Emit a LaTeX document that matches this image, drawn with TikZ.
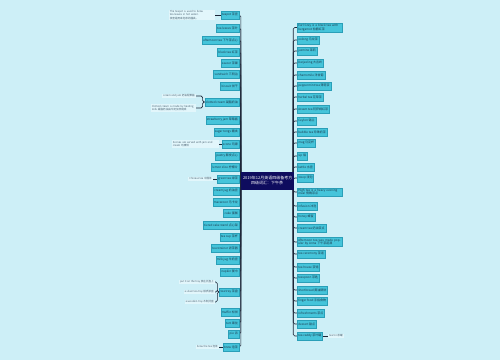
\documentclass[tikz,border=0pt]{standalone}
\usepackage{fontspec}
\setmainfont{Noto Sans CJK SC}
\usetikzlibrary{backgrounds}
\definecolor{fondo}{HTML}{CDEFF7}
\definecolor{colTema}{HTML}{45C4DA}
\definecolor{colBorde}{HTML}{2A9FB8}
\definecolor{colHoja}{HTML}{E2F6FB}
\definecolor{colCentro}{HTML}{0E0C5E}
\definecolor{colLinea}{HTML}{1C2436}
\definecolor{colTexto}{HTML}{1D3B4F}
\tikzset{
  tema/.style={fill=colTema, draw=colBorde, line width=0.3pt, inner sep=1.1pt,
    minimum height=7.4pt, text=colTexto, font=\fontsize{3}{3.6}\selectfont},
  hoja/.style={fill=colHoja, inner sep=1pt, align=left, text=colTexto!80,
    font=\fontsize{2.6}{3.2}\selectfont},
  centro/.style={fill=colCentro, draw=colCentro, text=white, align=center,
    text width=48pt, inner sep=2pt, minimum height=17pt,
    font=\fontsize{4}{5.2}\selectfont},
  rama/.style={draw=colLinea, line width=0.6pt, rounded corners=1.5pt}
}
\begin{document}
\begin{tikzpicture}[x=1pt,y=-1pt]
  \useasboundingbox (0,0) rectangle (500,360);
  % Nodo central
  \node[centro] (ctr) at (267,180.5) {2019年12月英语四级备考方\\四级词汇：下午茶};

  % Ramas izquierdas
  \foreach \i/\y/\t in {1/15/teapot 茶壶, 2/28/tea leaves 茶叶, 3/40/afternoon tea 下午茶点心,
      4/52/black tea 红茶, 5/63/saucer 茶碟, 6/74/sandwich 三明治, 7/86/biscuit 饼干,
      8/102/clotted cream 凝脂奶油, 9/120/strawberry jam 草莓酱, 10/132/sugar tongs 糖夹,
      11/144/scone 司康, 12/156/pastry 酥皮点心, 13/167/lemon slice 柠檬片,
      14/179/green tea 绿茶, 15/191/cream jug 奶油壶, 16/202/macaroon 马卡龙,
      17/213/cake 蛋糕, 18/225/tiered cake stand 点心架, 19/237/tea cup 茶杯,
      20/248/tea strainer 滤茶器, 21/260/milk jug 牛奶壶, 22/272/napkin 餐巾,
      23/292/tea tray 茶盘, 24/312/muffin 松饼, 25/323/tart 果挞, 26/334/pie 派,
      27/347/brew 泡茶}
    \node[tema, anchor=east] (L\i) at (239,\y) {\t};

  % Ramas derechas
  \node[tema, anchor=west, text width=43pt, align=left] (R1) at (297,27.5)
    {Earl Grey is a black tea with bergamot 伯爵红茶};
  \node[tema, anchor=west, text width=43pt, align=left] (R15) at (297,192)
    {High tea is a heavy evening meal 傍晚茶点};
  \node[tema, anchor=west, text width=43pt, align=left] (R19) at (297,242)
    {Afternoon tea was made popular by Anna 下午茶起源};
  \foreach \i/\y/\t in {2/40/oolong 乌龙茶, 3/51/jasmine 茉莉, 4/63/Darjeeling 大吉岭,
      5/75/chamomile 洋甘菊, 6/86/peppermint tea 薄荷茶, 7/97/herbal tea 花草茶,
      8/109/Assam tea 阿萨姆红茶, 9/121/Ceylon 锡兰, 10/132/bubble tea 珍珠奶茶,
      11/143/mug 马克杯, 12/156/sip 啜, 13/167/kettle 水壶, 14/178/steep 浸泡,
      16/206/infusion 冲泡, 17/217/honey 蜂蜜, 18/228/cream tea 奶油茶点,
      20/254/tea ceremony 茶道, 21/267/tea house 茶馆, 22/278/teaspoon 茶匙,
      23/290/shortbread 黄油酥饼, 24/301/finger food 手指食物, 25/313/refreshments 茶点,
      26/324/dessert 甜点, 27/336/tea caddy 茶叶罐}
    \node[tema, anchor=west] (R\i) at (297,\y) {\t};

  % Hojas
  \node[hoja, anchor=east, text width=44pt] (L1a) at (215,15)
    {The teapot is used to brew tea leaves in hot water. 茶壶是用来泡茶的器具。};
  \node[hoja, anchor=east] (L8a) at (196,96) {cream and jam 奶油配果酱};
  \node[hoja, anchor=east, text width=43pt] (L8b) at (196,108)
    {Clotted cream is made by heating milk 凝脂奶油由牛奶加热制成};
  \node[hoja, anchor=east, text width=45pt] (L11a) at (219,144)
    {Scones are served with jam and cream 司康饼};
  \node[hoja, anchor=east] (L14a) at (213,179) {Chinese tea 中国茶};
  \node[hoja, anchor=east] (L23a) at (215,282) {put it on the tray 放在托盘上};
  \node[hoja, anchor=east] (L23b) at (215,292) {a silver tea tray 银质茶盘};
  \node[hoja, anchor=east] (L23c) at (215,302) {a wooden tray 木制托盘};
  \node[hoja, anchor=east] (L27a) at (219,347) {brew the tea 泡茶};
  \node[hoja, anchor=west] (R27a) at (328,336) {tea tin 茶罐};

  \begin{pgfonlayer}{background}
    \fill[fondo] (0,0) rectangle (500,360);
    % Conectores
    \foreach \i in {1,...,27} {
      \draw[rama] (ctr.west) |- (L\i.east);
      \draw[rama] (ctr.east) |- (R\i.west);
    }
    \draw[rama] (L1a) -- (L1);
    \draw[rama] (L8.west) -- ++(-2,0) |- (L8a.east);
    \draw[rama] (L8.west) -- ++(-2,0) |- (L8b.east);
    \draw[rama] (L11a) -- (L11);
    \draw[rama] (L14a) -- (L14);
    \draw[rama] (L23.west) -- ++(-2,0) |- (L23a.east);
    \draw[rama] (L23.west) -- ++(-2,0) |- (L23b.east);
    \draw[rama] (L23.west) -- ++(-2,0) |- (L23c.east);
    \draw[rama] (L27a) -- (L27);
    \draw[rama] (R27) -- (R27a);
  \end{pgfonlayer}
\end{tikzpicture}
\end{document}
